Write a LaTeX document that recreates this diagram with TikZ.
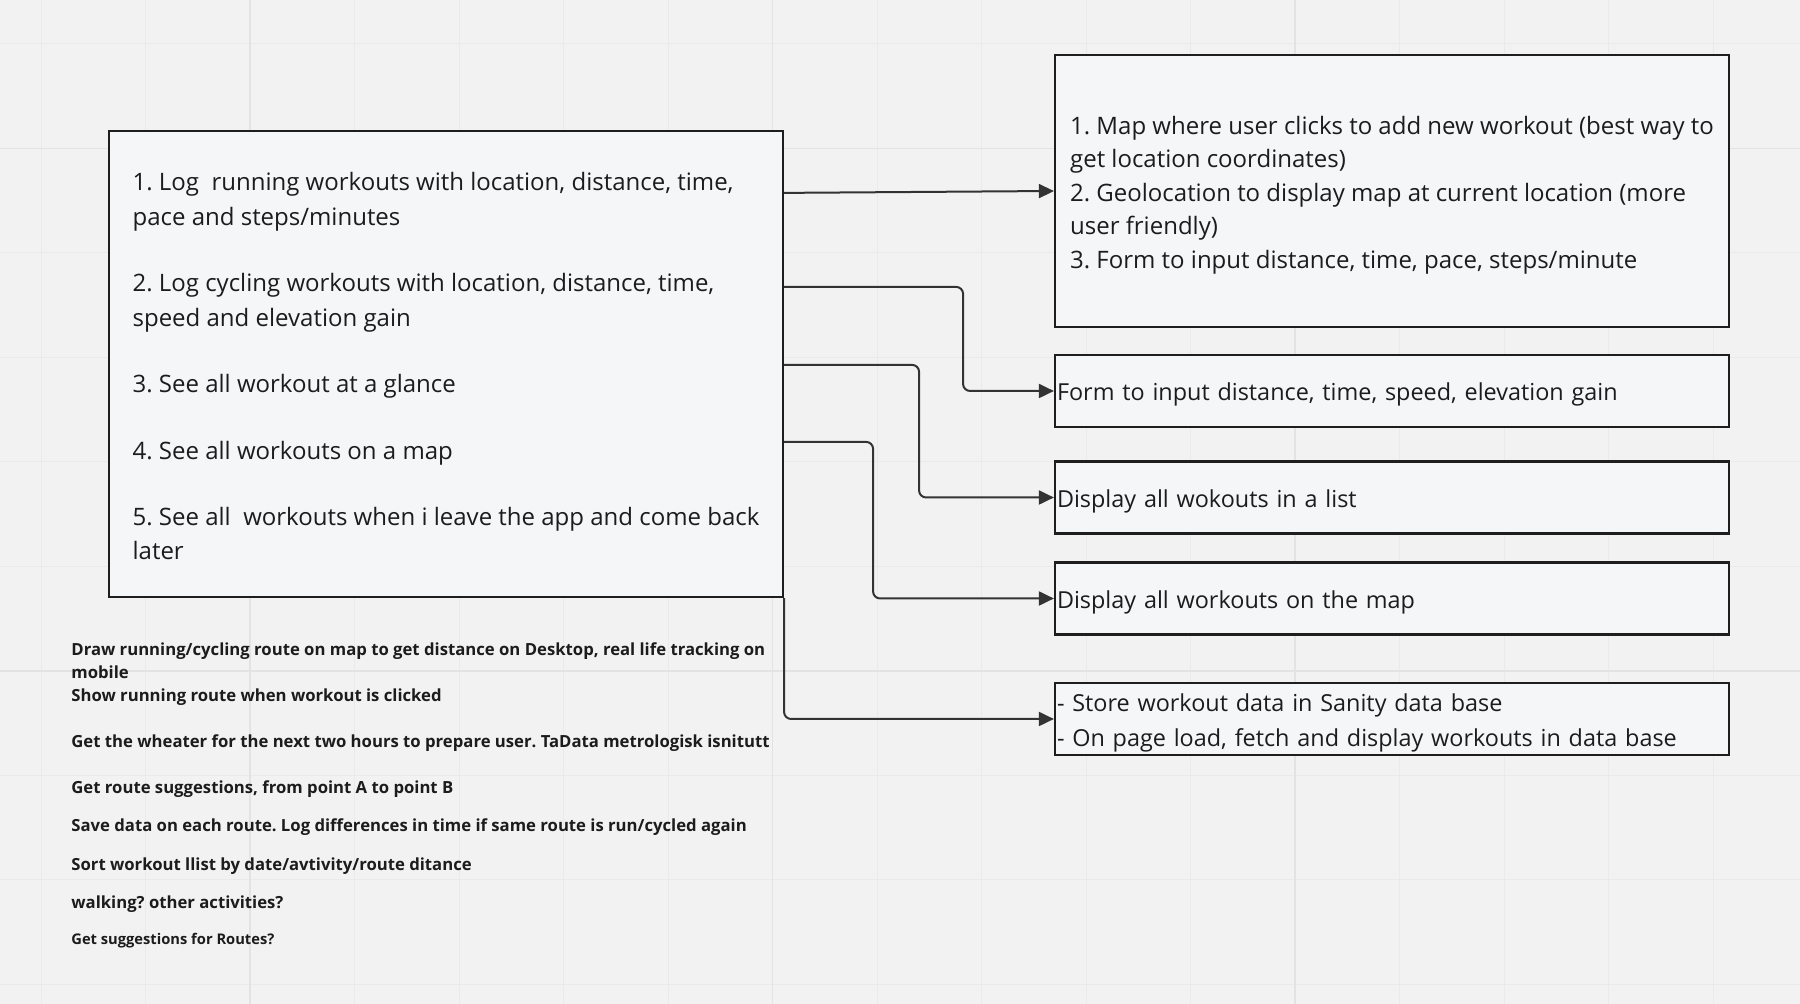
\documentclass[tikz,border=0pt]{standalone}
\usepackage{fontspec}
\setmainfont{Open Sans}
\usetikzlibrary{positioning, arrows.meta, calc}

\definecolor{boardbg}{HTML}{F2F2F2}
\definecolor{gridminor}{HTML}{EAEAEA}
\definecolor{gridmajor}{HTML}{E3E3E3}
\definecolor{boxfill}{HTML}{F5F6F8}
\definecolor{boxline}{HTML}{1E1E1E}
\definecolor{linkline}{HTML}{333333}
\definecolor{inktext}{HTML}{1C1C1C}

% invisible strut that pushes a box text a little down
\newcommand{\toppad}[1]{\rule{0pt}{#1}}

\begin{document}
\frenchspacing
\begin{tikzpicture}[
x=0.5pt, y=-0.5pt,
    goalbox/.style={rectangle, draw=boxline, line width=1.1pt, fill=boxfill, minimum width=337pt, align=left, inner sep=0pt, text=inktext, font=\fontsize{12}{17.15}\selectfont},
    featbox/.style={rectangle, draw=boxline, line width=1.1pt, fill=boxfill, minimum width=337pt, align=left, inner sep=0pt, text=inktext, font=\fontsize{12}{16.75}\selectfont},
    featline/.style={rectangle, draw=boxline, line width=1.1pt, fill=boxfill, minimum width=337pt, minimum height=36pt, text width=335pt, inner xsep=1pt, inner ysep=0pt, align=left, text=inktext, font=\fontsize{11.7}{17.15}\selectfont},
    note/.style={anchor=west, align=left, inner sep=0pt, text=inktext, font=\bfseries\fontsize{8.35}{11.5}\selectfont},
    line/.style={draw=linkline, line width=1pt, rounded corners=3.5pt, -{Triangle[length=7.5pt, width=7pt]}}
]

    % ================= BOARD =================
    \useasboundingbox (0,0) rectangle (1800,1004);
    \fill[boardbg] (0,0) rectangle (1800,1004);
    \foreach \k in {0,...,16}
        \draw[gridminor, line width=0.5pt] ({41+104.5*\k},0) -- ({41+104.5*\k},1004);
    \foreach \k in {0,...,9}
        \draw[gridminor, line width=0.5pt] (0,{44+104.5*\k}) -- (1800,{44+104.5*\k});
    \foreach \k in {2,7,12}
        \draw[gridmajor, line width=0.9pt] ({41+104.5*\k},0) -- ({41+104.5*\k},1004);
    \foreach \k in {1,6}
        \draw[gridmajor, line width=0.9pt] (0,{44+104.5*\k}) -- (1800,{44+104.5*\k});

    % ================= GOALS =================
    \node[goalbox, minimum height=233pt] (Goals) at (446,364) {\toppad{11.5pt}1. Log\ \ running workouts with location, distance, time,\\pace and steps/minutes\\[16.1pt]2. Log cycling workouts with location, distance, time,\\speed and elevation gain\\[16.1pt]3. See all workout at a glance\\[16.1pt]4. See all workouts on a map\\[16.1pt]5. See all\ \ workouts when i leave the app and come back\\later};

    % ================= FEATURES =================
    \node[featbox, minimum height=136pt] (MapForm) at (1392,191) {\toppad{13.2pt}1. Map where user clicks to add new workout (best way to\\get location coordinates)\\2. Geolocation to display map at current location (more\\user friendly)\\3. Form to input distance, time, pace, steps/minute};
    \node[featline] (CycleForm) at (1392,391) {\toppad{12.7pt}Form to input distance, time, speed, elevation gain};
    \node[featline] (ListView) at (1392,497.5) {\toppad{12.7pt}Display all wokouts in a list};
    \node[featline] (MapView) at (1392,598.5) {\toppad{12.7pt}Display all workouts on the map};
    \node[featline] (Storage) at (1392,719) {\toppad{12.7pt}- Store workout data in Sanity data base\\- On page load, fetch and display workouts in data base};

    % ================= LINKS =================
    \draw[line] ($(Goals.north east)+(0,63)$) -- (MapForm.west);
    \draw[line] ($(Goals.north east)+(0,157)$) -- ++(179,0) |- (CycleForm.west);
    \draw[line] ($(Goals.north east)+(0,235)$) -- ++(135,0) |- (ListView.west);
    \draw[line] ($(Goals.north east)+(0,312)$) -- ++(89,0) |- (MapView.west);
    \draw[line] (Goals.south east) |- (Storage.west);

    % ================= NOTES =================
    \node[note] (n_draw) at (71,660.5) {Draw running/cycling route on map to get distance on Desktop, real life tracking on\\mobile};
    \node[note] (n_show) at (71,697) {Show running route when workout is clicked};
    \node[note] (n_wthr) at (71,743) {Get the wheater for the next two hours to prepare user. TaData metrologisk isnitutt};
    \node[note] (n_rout) at (71,789) {Get route suggestions, from point A to point B};
    \node[note] (n_save) at (71,827) {Save data on each route. Log differences in time if same route is run/cycled again};
    \node[note] (n_sort) at (71,866) {Sort workout llist by date/avtivity/route ditance};
    \node[note] (n_walk) at (71,904) {walking? other activities?};
    \node[note, font=\bfseries\fontsize{7.35}{10}\selectfont] (n_sugg) at (71,941) {Get suggestions for Routes?};

\end{tikzpicture}
\end{document}
